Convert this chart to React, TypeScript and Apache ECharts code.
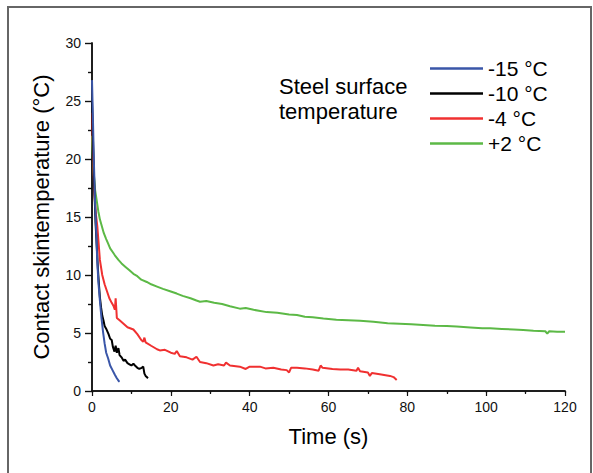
import React, { useEffect, useRef } from "react";
import * as echarts from "echarts";

// Contact skin temperature (°C) vs time (s) for each steel surface temperature
const seriesNames = ["-15 °C", "-10 °C", "-4 °C", "+2 °C"];
const seriesColors = ["#3a56a8", "#000000", "#f03030", "#5cb946"];

const minus15: [number, number][] = [
  [0, 26.8], [0.2, 24], [0.5, 19.5], [0.8, 16], [1.1, 13.5], [1.3, 11.5], [1.6, 9.5],
  [2.0, 7.8], [2.4, 6.3], [2.8, 5.1], [3.2, 4.1], [3.6, 3.3], [4.1, 2.8], [4.6, 2.2],
  [5.2, 1.8], [5.8, 1.4], [6.3, 1.1], [6.8, 0.85], [7.0, 0.8],
];

const minus10: [number, number][] = [
  [0, 25], [0.3, 21], [0.6, 17.5], [0.9, 14.5], [1.2, 12.5], [1.5, 10.5], [1.8, 9.0],
  [2.0, 8.1], [2.3, 7.2], [2.6, 6.5], [2.9, 6.1], [3.2, 5.6], [3.7, 5.3], [4.2, 4.9],
  [4.6, 4.5], [5.0, 4.4], [5.3, 3.8], [5.7, 3.4], [6.0, 3.9], [6.3, 3.3], [6.7, 3.7],
  [7.0, 3.1], [7.5, 2.9], [8.0, 2.6], [8.4, 2.7], [9.0, 2.4], [9.5, 2.3], [10.0, 2.2],
  [10.5, 2.35], [10.9, 2.2], [11.5, 2.0], [12.0, 1.9], [12.6, 2.0], [13.0, 2.1],
  [13.3, 1.5], [13.6, 1.3], [13.9, 1.2], [14.2, 1.1],
];

const minus4: [number, number][] = [
  [0, 24], [0.3, 20], [0.6, 17], [1.0, 15.2], [1.35, 14.2], [2.0, 11.3], [2.6, 10.0],
  [3.2, 9.2], [3.8, 8.6], [4.4, 8.0], [5.0, 7.6], [5.5, 7.3], [5.8, 7.0], [6.0, 8.0],
  [6.2, 6.9], [6.3, 6.3], [7.0, 6.1], [8.0, 5.8], [9.0, 5.5], [10.5, 5.3], [11.5, 4.9],
  [12.5, 4.4], [13.0, 4.25], [13.3, 4.6], [13.6, 4.2], [15.0, 3.9], [16.5, 3.6],
  [17.2, 3.5], [18.5, 3.55], [20, 3.3], [21, 3.2], [21.5, 3.45], [22.3, 3.0], [24, 2.9],
  [25.5, 2.7], [26.5, 2.95], [27.4, 2.5], [29, 2.4], [30.8, 2.2], [32, 2.3], [33.5, 2.2],
  [34, 2.45], [35, 2.2], [37.5, 2.1], [39, 1.9], [40, 2.1], [42.6, 2.1], [44, 1.95],
  [46, 2.0], [48, 1.85], [49.4, 1.8], [50.0, 1.6], [50.5, 2.0], [52, 2.0], [54, 1.95],
  [56, 1.85], [57.5, 1.75], [58, 2.2], [58.5, 2.0], [61, 1.9], [63, 1.85], [65, 1.85],
  [67.1, 1.75], [67.5, 2.0], [68, 1.7], [70, 1.6], [70.5, 1.3], [71, 1.55], [73, 1.45],
  [75.6, 1.3], [76.5, 1.2], [77.3, 0.95],
];

const plus2: [number, number][] = [
  [0, 22], [0.2, 20.2], [0.5, 18.5], [0.8, 17.3], [1.2, 16.4], [1.6, 15.5], [2.0, 14.8],
  [2.5, 14.2], [3.0, 13.6], [3.6, 13.1], [4.1, 12.7], [4.6, 12.3], [5.2, 12.0],
  [5.8, 11.7], [6.7, 11.3], [7.5, 11.0], [8.5, 10.7], [9.5, 10.4], [10.5, 10.1],
  [11.5, 9.9], [12.5, 9.6], [13.9, 9.4], [15, 9.2], [16.5, 9.0], [18, 8.8], [19.8, 8.6],
  [21.5, 8.4], [23, 8.2], [25, 8.0], [26.5, 7.8], [27.4, 7.7], [29, 7.75], [31, 7.6],
  [33, 7.5], [35, 7.3], [37.5, 7.1], [39, 7.15], [41, 7.0], [44.3, 6.8], [47, 6.75],
  [50, 6.6], [52, 6.55], [54, 6.4], [56, 6.35], [58.7, 6.25], [62, 6.15], [65, 6.1],
  [68, 6.05], [71.4, 5.97], [75, 5.85], [78, 5.8], [81, 5.75], [84, 5.7], [87, 5.62],
  [90, 5.6], [92.5, 5.55], [96, 5.48], [99, 5.42], [101, 5.4], [104, 5.35], [107, 5.3],
  [109.4, 5.26], [112, 5.2], [115, 5.15], [115.5, 4.95], [116, 5.15], [118, 5.1],
  [120, 5.1],
];

const seriesData = [minus15, minus10, minus4, plus2];

const FONT = "'Liberation Sans', Arial, Helvetica, sans-serif";

export default function App() {
  const ref = useRef<HTMLDivElement>(null);

  useEffect(() => {
    if (!ref.current) return;
    const chart = echarts.init(ref.current, undefined, { renderer: "svg" });
    const axisLine = { show: true, lineStyle: { color: "#111", width: 1.5 } };
    const option: any = {
      animation: false,
      backgroundColor: "#ffffff",
      textStyle: { fontFamily: FONT },
      grid: { left: 92, right: 28, top: 43, bottom: 82, containLabel: false },
      legend: {
        orient: "vertical",
        left: 425,
        top: 53,
        icon: "rect",
        itemWidth: 53,
        itemHeight: 2.5,
        itemGap: 4,
        data: seriesNames,
        textStyle: { fontFamily: FONT, fontSize: 21, color: "#000", lineHeight: 21, padding: [0, 0, 0, 0] },
      },
      xAxis: [
        {
          type: "value",
          position: "bottom",
          min: 0,
          max: 120,
          interval: 20,
          name: "Time (s)",
          nameLocation: "middle",
          nameGap: 34,
          nameTextStyle: { fontFamily: FONT, fontSize: 22, color: "#000" },
          axisLine,
          axisTick: { show: true, inside: false, length: 5, lineStyle: { color: "#111", width: 1.2 } },
          minorTick: { show: true, splitNumber: 2, length: 3, lineStyle: { color: "#111", width: 1.2 } },
          axisLabel: { fontFamily: FONT, fontSize: 14, color: "#111", margin: 9 },
          splitLine: { show: false },
        },
        {
          type: "value",
          position: "top",
          min: 0,
          max: 120,
          interval: 10,
          axisLine,
          axisTick: { show: true, inside: true, length: 2, lineStyle: { color: "#111", width: 1.2 } },
          axisLabel: { show: false },
          splitLine: { show: false },
        },
      ],
      yAxis: [
        {
          type: "value",
          position: "left",
          min: 0,
          max: 30,
          interval: 5,
          name: "Contact skintemperature (°C)",
          nameLocation: "middle",
          nameGap: 40,
          nameTextStyle: { fontFamily: FONT, fontSize: 22, color: "#000" },
          axisLine,
          axisTick: { show: true, inside: false, length: 7, lineStyle: { color: "#111", width: 1.2 } },
          minorTick: { show: true, splitNumber: 2, length: 4, lineStyle: { color: "#111", width: 1.2 } },
          axisLabel: { fontFamily: FONT, fontSize: 14, color: "#111", margin: 11 },
          splitLine: { show: false },
        },
        {
          type: "value",
          position: "right",
          min: 0,
          max: 30,
          interval: 5,
          axisLine,
          axisTick: { show: true, inside: true, length: 7, lineStyle: { color: "#111", width: 1.2 } },
          minorTick: { show: true, splitNumber: 2, length: 4, lineStyle: { color: "#111", width: 1.2 } },
          axisLabel: { show: false },
          splitLine: { show: false },
        },
      ],
      series: seriesNames.map((name, i) => ({
        name,
        type: "line",
        data: seriesData[i],
        xAxisIndex: 0,
        yAxisIndex: 0,
        showSymbol: false,
        symbol: "none",
        color: seriesColors[i],
        lineStyle: { color: seriesColors[i], width: 2 },
        z: 10 - i,
      })),
      graphic: [
        {
          type: "rect",
          shape: { x: 8, y: 7, width: 583, height: 490 },
          style: { fill: "none", stroke: "#666", lineWidth: 2 },
          silent: true,
        },
        {
          type: "text",
          x: 279,
          y: 74,
          style: {
            text: "Steel surface\ntemperature",
            font: `22px ${FONT}`,
            fill: "#000",
            lineHeight: 25,
            textVerticalAlign: "top",
          },
        },
      ],
    };
    chart.setOption(option);
    return () => chart.dispose();
  }, []);

  return (
    <div
      ref={ref}
      style={{ position: "absolute", left: 0, top: 0, width: 593, height: 473, background: "#fff" }}
    />
  );
}
